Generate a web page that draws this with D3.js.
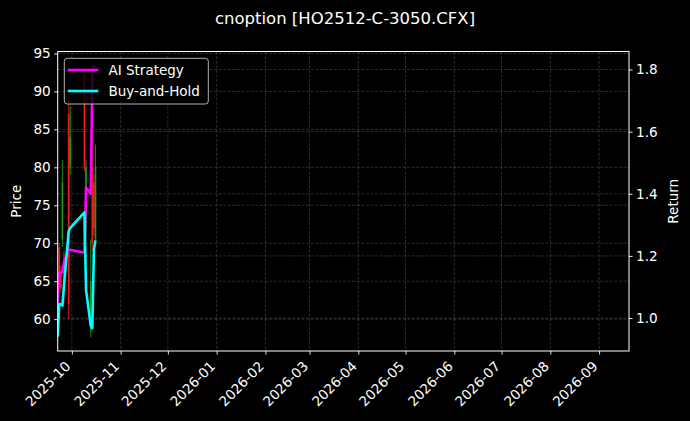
<!DOCTYPE html>
<html>
<head>
<meta charset="utf-8">
<script src="https://cdn.jsdelivr.net/npm/d3@7"></script>
<style>
  html, body { margin: 0; padding: 0; background: #000; }
  svg { display: block; }
  text { font-family: "DejaVu Sans", sans-serif; }
</style>
</head>
<body>
<svg id="chart" width="690" height="421"></svg>
<script>
// ---- data ----
const dates = ["2025-09-22","2025-09-23","2025-09-24","2025-09-25","2025-09-26","2025-09-29","2025-09-30",
               "2025-10-09","2025-10-10","2025-10-13","2025-10-14","2025-10-15","2025-10-16"];
const opens  = [58.0, 69.5, 66.0, 70.5, 66.0, 87.0, 80.0, 93.0, 72.0, 58.5, 80.0, 78.0, 70.5];
const highs  = [61.0, 70.0, 67.0, 81.0, 69.0, 89.0, 88.0, 93.5, 81.0, 70.5, 90.0, 79.0, 83.0];
const lows   = [57.8, 65.0, 63.5, 69.5, 65.0, 60.0, 79.0, 79.5, 71.0, 57.6, 69.0, 71.0, 70.0];
const closes = [60.0, 65.5, 64.0, 78.0, 68.0, 62.0, 84.0, 80.0, 80.0, 65.0, 70.0, 72.0, 80.0];
const aiReturn = [1.05, 1.145, 1.145, 1.15, 1.18, 1.22, 1.22, 1.21, 1.42, 1.40, 1.78, 1.81, 1.81];
const bhReturn = [0.94, 1.045, 1.045, 1.04, 1.105, 1.28, 1.29, 1.34, 1.09, 0.975, 0.968, 1.22, 1.25];
const priceTicks = [60, 65, 70, 75, 80, 85, 90, 95];
const returnTicks = [1.0, 1.2, 1.4, 1.6, 1.8];
const monthTicks = ["2025-10-01","2025-11-01","2025-12-01","2026-01-01","2026-02-01","2026-03-01",
                    "2026-04-01","2026-05-01","2026-06-01","2026-07-01","2026-08-01","2026-09-01"];
const xDomain = ["2025-09-22", "2026-09-20"];
const priceDomain = [55.8, 95.26];
const returnDomain = [0.894, 1.858];
const seriesNames = ["AI Strategy", "Buy-and-Hold"];
const seriesColors = ["#ff00ff", "#00ffff"];
const titleText = "cnoption [HO2512-C-3050.CFX]";

// ---- layout ----
const L = 57.7, R = 629, T = 51.5, B = 351;
const parse = d3.timeParse("%Y-%m-%d");
const svg = d3.select("#chart");
svg.append("rect").attr("width", 690).attr("height", 421).attr("fill", "#000");

const x = d3.scaleTime().domain(xDomain.map(parse)).range([L, R]);
const yP = d3.scaleLinear().domain(priceDomain).range([B, T]);
const yR = d3.scaleLinear().domain(returnDomain).range([B, T]);

const rows = dates.map((d, i) => ({
  date: parse(d), o: opens[i], h: highs[i], l: lows[i], c: closes[i],
  ai: aiReturn[i], bh: bhReturn[i]
}));

svg.append("defs").append("clipPath").attr("id", "clip")
  .append("rect").attr("x", L).attr("y", T).attr("width", R - L).attr("height", B - T);

// grid
const grid = svg.append("g").attr("stroke", "#ffffff").attr("stroke-opacity", 0.25)
  .attr("stroke-width", 0.7).attr("stroke-dasharray", "3,1.6");
monthTicks.map(parse).forEach(d => {
  grid.append("line").attr("x1", x(d)).attr("x2", x(d)).attr("y1", T).attr("y2", B);
});
priceTicks.forEach(v => {
  grid.append("line").attr("x1", L).attr("x2", R).attr("y1", yP(v)).attr("y2", yP(v));
});
returnTicks.forEach(v => {
  grid.append("line").attr("x1", L).attr("x2", R).attr("y1", yR(v)).attr("y2", yR(v));
});

// candles
const plot = svg.append("g").attr("clip-path", "url(#clip)");
const candles = plot.append("g");
rows.forEach(r => {
  const col = r.c >= r.o ? "#1e9e1e" : "#ff1a1a";
  const cx = x(r.date);
  candles.append("line").attr("x1", cx).attr("x2", cx).attr("y1", yP(r.h)).attr("y2", yP(r.l))
    .attr("stroke", col).attr("stroke-width", 1).attr("stroke-opacity", 0.85);
  candles.append("rect").attr("x", cx - 0.9).attr("width", 1.8)
    .attr("y", yP(Math.max(r.o, r.c))).attr("height", Math.max(0.5, Math.abs(yP(r.o) - yP(r.c))))
    .attr("fill", col).attr("fill-opacity", 0.85);
});

// return lines
const lineAI = d3.line().x(d => x(d.date)).y(d => yR(d.ai));
const lineBH = d3.line().x(d => x(d.date)).y(d => yR(d.bh));
plot.append("path").datum(rows).attr("d", lineAI).attr("fill", "none")
  .attr("stroke", seriesColors[0]).attr("stroke-width", 2.6).attr("stroke-linejoin", "round");
plot.append("path").datum(rows).attr("d", lineBH).attr("fill", "none")
  .attr("stroke", seriesColors[1]).attr("stroke-width", 2.6).attr("stroke-linejoin", "round");

// axes
const fs = 13.6;
const axL = svg.append("g").attr("transform", `translate(${L},0)`)
  .call(d3.axisLeft(yP).tickValues(priceTicks).tickSize(3.5).tickPadding(3.5).tickFormat(d3.format("d")));
const axR = svg.append("g").attr("transform", `translate(${R},0)`)
  .call(d3.axisRight(yR).tickValues(returnTicks).tickSize(3.5).tickPadding(3.5).tickFormat(d3.format(".1f")));
const axB = svg.append("g").attr("transform", `translate(0,${B})`)
  .call(d3.axisBottom(x).tickValues(monthTicks.map(parse)).tickSize(3.5).tickFormat(d3.timeFormat("%Y-%m")));
[axL, axR, axB].forEach(a => {
  a.select(".domain").remove();
  a.selectAll(".tick line").attr("stroke", "#fff").attr("stroke-width", 0.9);
  a.selectAll(".tick text").attr("fill", "#fff").attr("font-size", fs)
    .attr("font-family", "DejaVu Sans, sans-serif");
});
axB.selectAll(".tick text")
  .attr("text-anchor", "end").attr("dy", null).attr("y", null)
  .attr("transform", "translate(-1,16) rotate(-45)");

// frame
svg.append("rect").attr("x", L).attr("y", T).attr("width", R - L).attr("height", B - T)
  .attr("fill", "none").attr("stroke", "#fff").attr("stroke-width", 1);

// labels
svg.append("text").attr("transform", `translate(21,${(T + B) / 2}) rotate(-90)`)
  .attr("text-anchor", "middle").attr("fill", "#fff").attr("font-size", 13.5).text("Price");
svg.append("text").attr("transform", `translate(678,${(T + B) / 2}) rotate(-90)`)
  .attr("text-anchor", "middle").attr("fill", "#fff").attr("font-size", 13.5).text("Return");
svg.append("text").attr("x", 345).attr("y", 24).attr("text-anchor", "middle")
  .attr("fill", "#fff").attr("font-size", 16.5).text(titleText);

// legend
const lg = svg.append("g");
lg.append("rect").attr("x", 64.3).attr("y", 58.3).attr("width", 144).attr("height", 45.7)
  .attr("rx", 3).attr("fill", "#000").attr("fill-opacity", 0.8)
  .attr("stroke", "#d0d0d0").attr("stroke-opacity", 0.85).attr("stroke-width", 1);
seriesNames.forEach((n, i) => {
  const yy = 70 + i * 21;
  lg.append("line").attr("x1", 67.7).attr("x2", 98.3).attr("y1", yy).attr("y2", yy)
    .attr("stroke", seriesColors[i]).attr("stroke-width", 2.6);
  lg.append("text").attr("x", 108.5).attr("y", yy).attr("dy", "0.35em")
    .attr("fill", "#fff").attr("font-size", 13.5).text(n);
});
</script>
</body>
</html>
